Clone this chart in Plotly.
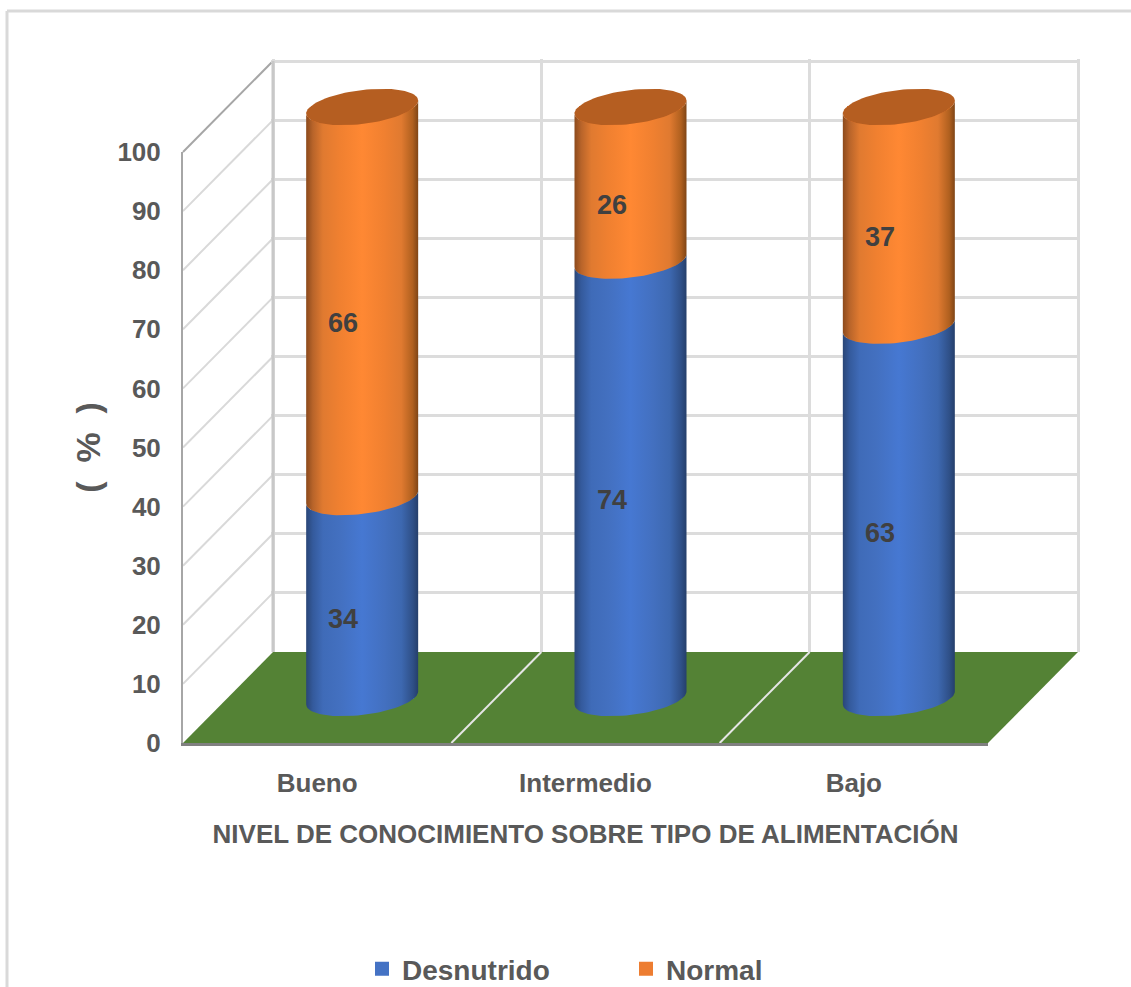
import math
import plotly.graph_objects as go

categories = ["Bueno", "Intermedio", "Bajo"]
desnutrido = [34, 74, 63]
normal = [66, 26, 37]
y_ticks = [0, 10, 20, 30, 40, 50, 60, 70, 80, 90, 100]
x_title = "NIVEL DE CONOCIMIENTO SOBRE TIPO DE ALIMENTACIÓN"
y_title = "(  %  )"

W, H = 1131, 987
FONT = "Liberation Sans"
GREY = "#595959"
# oblique plane geometry, px
LEFT, RIGHT, BASE, SPAN = 183, 988, 743, 591
DEPTH_X, DEPTH_Y = 90, 91
MID_X, MID_Y = 45, 45
R_X, TILT, R_Y = 56, 6.5, 17
EDGE = 1.6  # px of room so the outermost grid lines are kept


def fx(p):
    return p / W


def fy(p):
    return 1 - p / H


n = len(categories)
cat_w = (RIGHT - LEFT) / n
pos = list(range(n))
px_y = SPAN / 100
fig = go.Figure()

# back wall (first subplot, drawn lowest)
fig.add_trace(go.Scatter(x=[0, n], y=[0, 100], mode="markers", marker=dict(opacity=0),
                         hoverinfo="skip", showlegend=False, xaxis="x", yaxis="y"))

# bars on the middle plane
blue_scale = [[0, "#2A4677"], [.06, "#345A9C"], [.15, "#3F6BB8"], [.3, "#4370C0"], [.5, "#4678D2"],
              [.7, "#4370C0"], [.85, "#3D68B0"], [.95, "#2F5088"], [1, "#253F6B"]]
orange_scale = [[0, "#8C4A1C"], [.06, "#B8642A"], [.15, "#E07A30"], [.3, "#F08030"], [.5, "#FF8833"],
                [.7, "#F08030"], [.85, "#E07A30"], [.95, "#B0601F"], [1, "#7F4516"]]
bar_w = 2 * R_X / cat_w
fig.add_trace(go.Bar(x=pos, y=desnutrido, name="Desnutrido", width=bar_w * .9,
                     marker=dict(color="#4472C4", line=dict(color="#4472C4", width=2)),
                     xaxis="x2", yaxis="y2", hoverinfo="y"))
fig.add_trace(go.Bar(x=pos, y=normal, name="Normal", width=bar_w * .9,
                     marker=dict(color="#ED7D31", line=dict(color="#ED7D31", width=2)),
                     xaxis="x2", yaxis="y2", hoverinfo="y"))

ts = [math.pi + math.pi * i / 40 for i in range(41)]


def arc(center, value, params):
    xs = [center + R_X / cat_w * math.cos(t) for t in params]
    ys = [value + (TILT * math.cos(t) + R_Y * math.sin(t)) / px_y for t in params]
    return xs, ys


def body(center, low, high, scale):
    x0, y0 = arc(center, low, ts)
    x1, y1 = arc(center, high, ts[::-1])
    fig.add_trace(go.Scatter(x=x0 + x1, y=y0 + y1, mode="lines", line=dict(width=0), fill="toself",
                             fillgradient=dict(type="horizontal", colorscale=scale),
                             hoverinfo="skip", showlegend=False, xaxis="x2", yaxis="y2"))


annotations = []
for i in pos:
    d, m = desnutrido[i], normal[i]
    body(i, 0, d, blue_scale)
    body(i, d, d + m, orange_scale)
    xs, ys = arc(i, d + m, [2 * math.pi * k / 80 for k in range(81)])
    fig.add_trace(go.Scatter(x=xs, y=ys, mode="lines", line=dict(width=0), fill="toself",
                             fillcolor="#B55E21", hoverinfo="skip", showlegend=False,
                             xaxis="x2", yaxis="y2"))
    for val, mid in ((d, d / 2), (m, d + m / 2)):
        annotations.append(dict(x=i, y=mid, xref="x2", yref="y2", text=str(val), showarrow=False,
                                xshift=-19, yshift=-21,
                                font=dict(family=FONT, size=27, color="#404040", weight="bold")))

# front plane: tick labels and axis lines
fig.add_trace(go.Scatter(x=categories, y=[0] * n, mode="markers", marker=dict(opacity=0),
                         hoverinfo="skip", showlegend=False, xaxis="x3", yaxis="y3"))

# walls and floor, from the same tick values
shapes = [dict(type="path", xref="paper", yref="paper", layer="below", line=dict(width=0),
               fillcolor="#548235",
               path="M{},{} L{},{} L{},{} L{},{} Z".format(
                   fx(LEFT), fy(BASE), fx(LEFT + DEPTH_X), fy(BASE - DEPTH_Y),
                   fx(RIGHT + DEPTH_X), fy(BASE - DEPTH_Y), fx(RIGHT), fy(BASE)))]
for t in y_ticks[1:]:
    yp = BASE - t * px_y
    top = t == y_ticks[-1]
    shapes.append(dict(type="line", xref="paper", yref="paper", layer="below",
                       x0=fx(LEFT), y0=fy(yp), x1=fx(LEFT + DEPTH_X), y1=fy(yp - DEPTH_Y),
                       line=dict(color="#A6A6A6" if top else "#D9D9D9", width=2)))
for i in range(1, n):
    xp = LEFT + i * cat_w
    shapes.append(dict(type="line", xref="paper", yref="paper", layer="below",
                       x0=fx(xp), y0=fy(BASE), x1=fx(xp + DEPTH_X), y1=fy(BASE - DEPTH_Y),
                       line=dict(color="#E6E6E6", width=2)))
# darker corner of the back wall
shapes.append(dict(type="line", xref="paper", yref="paper", layer="above",
                   x0=fx(LEFT + DEPTH_X), y0=fy(BASE - DEPTH_Y),
                   x1=fx(LEFT + DEPTH_X), y1=fy(BASE - DEPTH_Y - SPAN),
                   line=dict(color="#C8C8C8", width=3)))
# outer frame of the picture
shapes.append(dict(type="line", xref="paper", yref="paper", layer="below", x0=fx(7), y0=fy(11),
                   x1=1, y1=fy(11), line=dict(color="#D9D9D9", width=3)))
shapes.append(dict(type="line", xref="paper", yref="paper", layer="below", x0=fx(7), y0=fy(11),
                   x1=fx(7), y1=0, line=dict(color="#D9D9D9", width=3)))

hidden = dict(visible=False, fixedrange=True)
mid_pad = 12  # value units of room around the bars for the elliptical caps
fig.update_layout(
    width=W, height=H, margin=dict(l=0, r=0, t=0, b=0, autoexpand=False),
    paper_bgcolor="white", plot_bgcolor="rgba(0,0,0,0)",
    barmode="stack", shapes=shapes, annotations=annotations,
    font=dict(family=FONT, color=GREY, size=26, weight="bold"),
    # back wall
    xaxis=dict(domain=[fx(LEFT + DEPTH_X - EDGE), fx(RIGHT + DEPTH_X + EDGE)],
               range=[-EDGE / cat_w, n + EDGE / cat_w], dtick=1, tick0=0,
               showgrid=True, gridcolor="#DCDCDC", gridwidth=3, zeroline=False,
               showticklabels=False, ticks="", fixedrange=True),
    yaxis=dict(domain=[fy(BASE - DEPTH_Y), fy(BASE - DEPTH_Y - SPAN - EDGE)],
               range=[0, 100 + EDGE / px_y], tickvals=y_ticks[1:],
               showgrid=True, gridcolor="#DCDCDC", gridwidth=3, zeroline=False,
               showticklabels=False, ticks="", fixedrange=True),
    # middle plane, bars
    xaxis2=dict(domain=[fx(LEFT + MID_X), fx(RIGHT + MID_X)], range=[-.5, n - .5], anchor="y2", **hidden),
    yaxis2=dict(domain=[fy(BASE - MID_Y + mid_pad * px_y), fy(BASE - MID_Y - (100 + mid_pad) * px_y)],
                range=[-mid_pad, 100 + mid_pad], anchor="x2", **hidden),
    # front plane, labels
    xaxis3=dict(domain=[fx(LEFT), fx(RIGHT)], range=[-.5, n - .5], type="category", anchor="y3",
                categoryorder="array", categoryarray=categories,
                showline=True, linecolor="#808080", linewidth=3, showgrid=False, zeroline=False,
                ticks="", ticklabelstandoff=15, fixedrange=True,
                tickfont=dict(family=FONT, size=26, color=GREY, weight="bold"),
                title=dict(text=x_title, standoff=28,
                           font=dict(family=FONT, size=26, color=GREY, weight="bold"))),
    yaxis3=dict(domain=[fy(BASE), fy(BASE - SPAN)], range=[0, 100], tickvals=y_ticks, anchor="x3",
                showline=True, linecolor="#A6A6A6", linewidth=2, showgrid=False, zeroline=False,
                ticks="", ticklabelstandoff=15, fixedrange=True,
                tickfont=dict(family=FONT, size=26, color=GREY, weight="bold"),
                title=dict(text=y_title, standoff=7,
                           font=dict(family=FONT, size=34, color=GREY, weight="bold"))),
    legend=dict(orientation="h", x=fx(362), y=fy(969), xanchor="left", yanchor="middle",
                traceorder="normal", entrywidth=219, entrywidthmode="pixels",
                font=dict(family=FONT, size=28, color=GREY, weight="bold"),
                bgcolor="rgba(0,0,0,0)"),
)

fig.write_html(
    "out.html",
    config=dict(displayModeBar=False),
    post_script="document.body.style.margin='0';document.documentElement.style.overflow='hidden';",
)
